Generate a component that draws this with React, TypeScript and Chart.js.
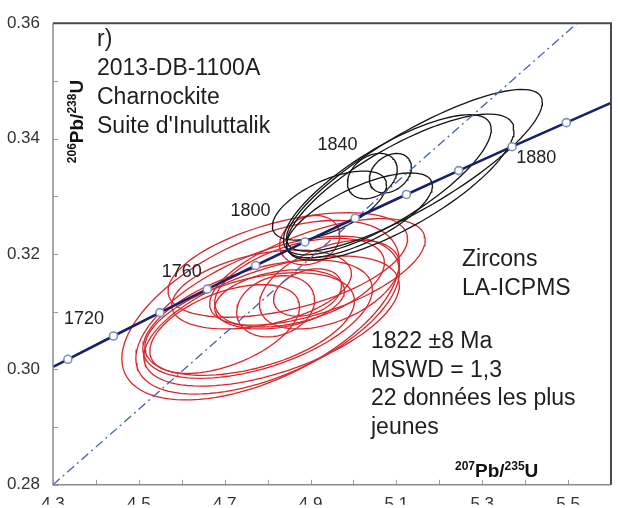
import React, { useEffect, useRef } from 'react';
import { Chart, registerables } from 'chart.js';

Chart.register(...registerables);

// ---- axis ticks ----
const xTickValues = [4.3, 4.5, 4.7, 4.9, 5.1, 5.3, 5.5];
const yTickValues = [0.28, 0.3, 0.32, 0.34, 0.36];
const xMinorTicks = [4.4, 4.6, 4.8, 5.0, 5.2, 5.4];
const yMinorTicks = [0.29, 0.31, 0.33, 0.35];

// ---- concordia markers (every 20 Ma) ----
const concordiaAges = [1700, 1720, 1740, 1760, 1780, 1800, 1820, 1840, 1860, 1880, 1900];
const concordiaX = [4.3346, 4.4409, 4.5491, 4.6595, 4.7721, 4.8869, 5.004, 5.1234, 5.2452, 5.3695, 5.4959];
const concordiaY = [0.30175, 0.30579, 0.30984, 0.31391, 0.318, 0.32209, 0.3262, 0.33032, 0.33445, 0.3386, 0.34276];
// concordia curve ends at the frame
const concordiaStart = { x: 4.3, y: 0.30043 };
const concordiaEnd = { x: 5.6, y: 0.34619 };

// ---- age labels ----
const ageLabels = ['1720', '1760', '1800', '1840', '1880'];
const ageLabelX = [4.372, 4.6, 4.76, 4.963, 5.426];
const ageLabelY = [0.3087, 0.3169, 0.3275, 0.3388, 0.3366];

// ---- regression (discordia) line ----
const regressionX = [4.3, 5.521];
const regressionY = [0.28, 0.36];

// ---- red ellipses (younger group) ----
const redCx = [4.7837, 4.8, 4.8093, 4.7767, 4.7581, 4.847, 4.916, 4.8744, 4.898, 4.828, 4.8186, 4.893, 4.944, 4.7, 4.786];
const redCy = [0.31026, 0.3094, 0.30838, 0.30872, 0.30786, 0.3181, 0.3169, 0.31504, 0.3224, 0.31214, 0.31094, 0.31333, 0.3147, 0.307, 0.31385];
const redSx = [0.3233, 0.307, 0.2977, 0.2674, 0.2442, 0.279, 0.251, 0.1977, 0.07, 0.1512, 0.0907, 0.0791, 0.163, 0.1744, 0.2093];
const redSy = [0.01556, 0.01368, 0.01128, 0.01026, 0.00889, 0.00906, 0.00923, 0.00769, 0.00427, 0.00513, 0.0053, 0.0041, 0.00769, 0.00769, 0.00684];
const redRho = [0.54, 0.55, 0.55, 0.5, 0.45, 0.5, 0.6, 0.45, 0.2, 0.3, 0.2, 0.3, 0.45, 0.5, 0.4];

// ---- black ellipses (older group) ----
const blackCx = [5.142, 5.109, 5.079, 5.044, 5.086, 5.014, 4.944];
const blackCy = [0.3345, 0.3316, 0.332, 0.3335, 0.334, 0.3267, 0.3284];
const blackSx = [0.298, 0.265, 0.242, 0.058, 0.049, 0.17, 0.133];
const blackSy = [0.01402, 0.01265, 0.01214, 0.00393, 0.00342, 0.00735, 0.00598];
const blackRho = [0.84, 0.78, 0.79, 0.3, 0.3, 0.7, 0.6];

// ---- text ----
const sampleLines = ['r)', '2013-DB-1100A', 'Charnockite', "Suite d'Inuluttalik"];
const methodLines = ['Zircons', 'LA-ICPMS'];
const resultLines = ['1822 ±8 Ma', 'MSWD = 1,3', '22 données les plus', 'jeunes'];

const FONT = '"Liberation Sans", Arial, Helvetica, sans-serif';

function ellipsePoints(cx: number, cy: number, sx: number, sy: number, rho: number) {
  const pts: { x: number; y: number }[] = [];
  const k = Math.sqrt(1 - rho * rho);
  const n = 96;
  for (let i = 0; i <= n; i++) {
    const t = (i / n) * Math.PI * 2;
    pts.push({ x: cx + sx * Math.cos(t), y: cy + sy * (rho * Math.cos(t) + k * Math.sin(t)) });
  }
  return pts;
}

function drawSupText(ctx: CanvasRenderingContext2D, parts: { t: string; sup: boolean }[], x: number, y: number) {
  let cx = x;
  for (const p of parts) {
    ctx.font = p.sup ? `bold 12px ${FONT}` : `bold 19px ${FONT}`;
    ctx.fillText(p.t, cx, p.sup ? y - 7 : y);
    cx += ctx.measureText(p.t).width;
  }
}

const overlayPlugin = {
  id: 'overlay',
  afterDraw(chart: any) {
    const ctx: CanvasRenderingContext2D = chart.ctx;
    const { left, right, top, bottom } = chart.chartArea;
    const xs = chart.scales.x;
    const ys = chart.scales.y;
    ctx.save();
    // ticks inward
    ctx.strokeStyle = '#9a9a9a';
    ctx.lineWidth = 1;
    [...xTickValues, ...xMinorTicks].forEach((v) => {
      const px = Math.round(xs.getPixelForValue(v)) + 0.5;
      ctx.beginPath();
      ctx.moveTo(px, bottom);
      ctx.lineTo(px, bottom - 5);
      ctx.stroke();
    });
    [...yTickValues, ...yMinorTicks].forEach((v) => {
      const py = Math.round(ys.getPixelForValue(v)) + 0.5;
      ctx.beginPath();
      ctx.moveTo(left, py);
      ctx.lineTo(left + 5, py);
      ctx.stroke();
    });
    // frame
    ctx.strokeStyle = '#8c8c8c';
    ctx.lineWidth = 1.5;
    ctx.beginPath();
    ctx.moveTo(left, top);
    ctx.lineTo(left, bottom);
    ctx.lineTo(right, bottom);
    ctx.stroke();
    ctx.strokeStyle = '#4a4a4a';
    ctx.lineWidth = 2;
    ctx.beginPath();
    ctx.moveTo(left, top);
    ctx.lineTo(right, top);
    ctx.lineTo(right, bottom);
    ctx.stroke();

    // texts
    ctx.fillStyle = '#1e1e1e';
    ctx.textAlign = 'left';
    ctx.textBaseline = 'alphabetic';
    ctx.font = `23px ${FONT}`;
    sampleLines.forEach((s, i) => ctx.fillText(s, left + 44, top + 23 + i * 29));
    methodLines.forEach((s, i) => ctx.fillText(s, left + 409, top + 243 + i * 29));
    resultLines.forEach((s, i) => ctx.fillText(s, left + 318, top + 325 + i * 28.5));

    // age labels
    ctx.font = `18px ${FONT}`;
    ctx.textAlign = 'center';
    ctx.textBaseline = 'middle';
    ctx.fillStyle = '#222';
    ageLabels.forEach((s, i) => {
      ctx.fillText(s, xs.getPixelForValue(ageLabelX[i]), ys.getPixelForValue(ageLabelY[i]));
    });

    // axis titles
    ctx.textAlign = 'left';
    ctx.textBaseline = 'alphabetic';
    ctx.fillStyle = '#111';
    drawSupText(
      ctx,
      [
        { t: '207', sup: true },
        { t: 'Pb/', sup: false },
        { t: '235', sup: true },
        { t: 'U', sup: false },
      ],
      left + 402,
      bottom - 8
    );
    ctx.save();
    ctx.translate(left + 30, top + 140);
    ctx.rotate(-Math.PI / 2);
    drawSupText(
      ctx,
      [
        { t: '206', sup: true },
        { t: 'Pb/', sup: false },
        { t: '238', sup: true },
        { t: 'U', sup: false },
      ],
      0,
      0
    );
    ctx.restore();
    ctx.restore();
  },
};

export default function App() {
  const canvasRef = useRef<HTMLCanvasElement | null>(null);

  useEffect(() => {
    const canvas = canvasRef.current;
    if (!canvas) return;

    const ellipseSets: any[] = [];
    blackCx.forEach((_, i) => {
      ellipseSets.push({
        type: 'line',
        data: ellipsePoints(blackCx[i], blackCy[i], blackSx[i], blackSy[i], blackRho[i]),
        borderColor: '#151515',
        borderWidth: 1.3,
        pointRadius: 0,
        fill: false,
        tension: 0,
      });
    });
    redCx.forEach((_, i) => {
      ellipseSets.push({
        type: 'line',
        data: ellipsePoints(redCx[i], redCy[i], redSx[i], redSy[i], redRho[i]),
        borderColor: '#d8262b',
        borderWidth: 1.3,
        pointRadius: 0,
        fill: false,
        tension: 0,
      });
    });

    const markerData = concordiaX.map((x, i) => ({ x, y: concordiaY[i], age: concordiaAges[i] }));
    const curveData = [concordiaStart, ...concordiaX.map((x, i) => ({ x, y: concordiaY[i] })), concordiaEnd];
    const regData = regressionX.map((x, i) => ({ x, y: regressionY[i] }));

    const chart = new Chart(canvas, {
      type: 'scatter',
      data: {
        datasets: [
          {
            type: 'scatter',
            data: markerData,
            pointRadius: 4,
            pointBackgroundColor: '#ffffff',
            pointBorderColor: '#7f8fb8',
            pointBorderWidth: 1.6,
            showLine: false,
          },
          {
            type: 'line',
            data: curveData,
            borderColor: '#17206e',
            borderWidth: 2.6,
            pointRadius: 0,
            fill: false,
            tension: 0,
          },
          {
            type: 'line',
            data: regData,
            borderColor: '#4262aa',
            borderWidth: 1.3,
            borderDash: [9, 4, 2, 4],
            pointRadius: 0,
            fill: false,
          },
          ...ellipseSets,
        ] as any,
      },
      options: {
        animation: false,
        responsive: false,
        parsing: false as any,
        events: [],
        layout: { padding: { top: 20, right: 7, left: 0, bottom: 0 } },
        plugins: { legend: { display: false }, tooltip: { enabled: false } },
        scales: {
          x: {
            type: 'linear',
            min: 4.3,
            max: 5.6,
            grid: { display: false, drawTicks: false },
            border: { display: false },
            afterBuildTicks: (scale: any) => {
              scale.ticks = xTickValues.map((v) => ({ value: v }));
            },
            afterFit: (scale: any) => {
              scale.height = 20;
            },
            ticks: {
              autoSkip: false,
              maxRotation: 0,
              padding: 9,
              color: '#333',
              font: { family: FONT, size: 17 },
              callback: (v: any) => Number(v).toFixed(1),
            },
          },
          y: {
            type: 'linear',
            min: 0.28,
            max: 0.36,
            grid: { display: false, drawTicks: false },
            border: { display: false },
            afterBuildTicks: (scale: any) => {
              scale.ticks = yTickValues.map((v) => ({ value: v }));
            },
            afterFit: (scale: any) => {
              scale.width = 53;
            },
            ticks: {
              autoSkip: false,
              padding: 13,
              color: '#333',
              font: { family: FONT, size: 17 },
              callback: (v: any) => Number(v).toFixed(2),
            },
          },
        },
      },
      plugins: [overlayPlugin],
    } as any);

    return () => chart.destroy();
  }, []);

  return (
    <div style={{ position: 'absolute', left: 0, top: 0, width: 618, height: 508, overflow: 'hidden', background: '#fff' }}>
      <canvas ref={canvasRef} width={618} height={508} style={{ display: 'block' }} />
    </div>
  );
}
